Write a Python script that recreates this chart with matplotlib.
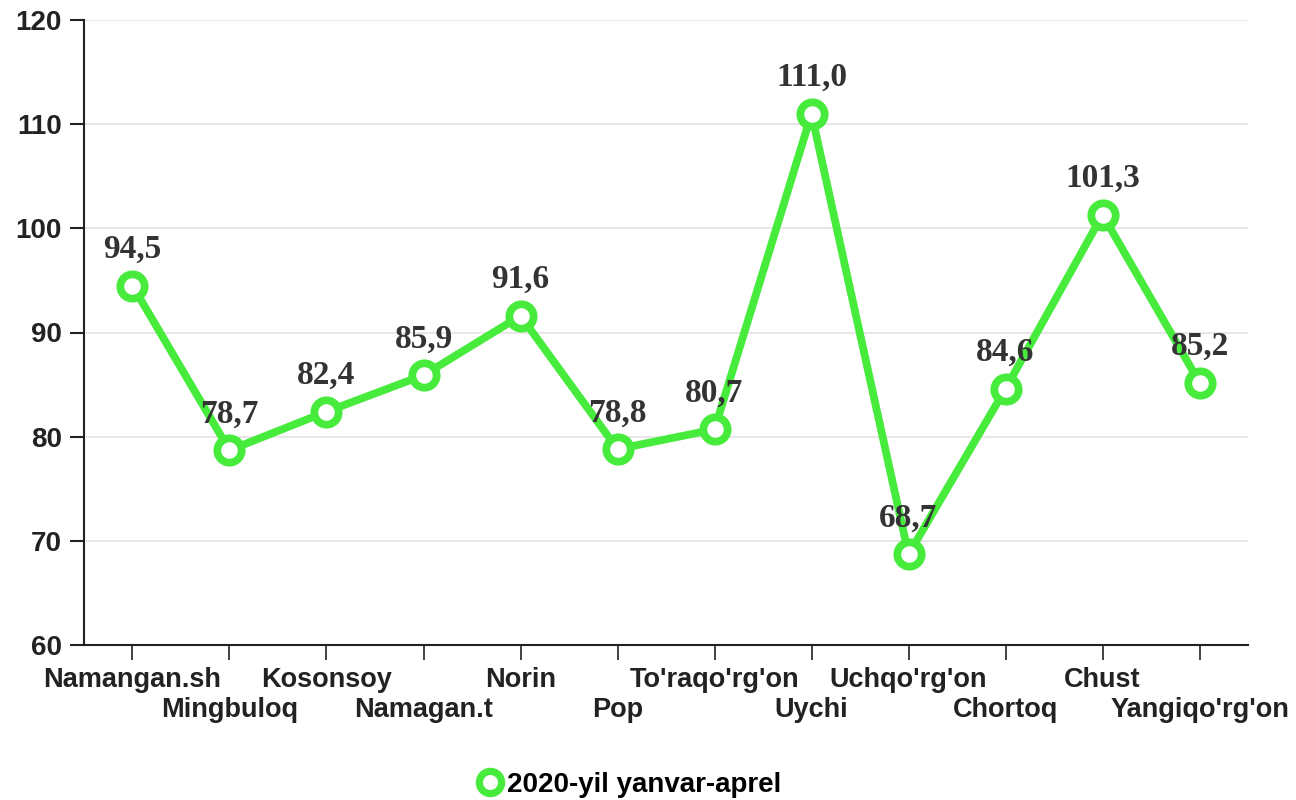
import matplotlib.pyplot as plt
from matplotlib.lines import Line2D

# Namangan districts, 2020 January-April
districts = ["Namangan.sh", "Mingbuloq", "Kosonsoy", "Namagan.t", "Norin", "Pop",
             "To'raqo'rg'on", "Uychi", "Uchqo'rg'on", "Chortoq", "Chust", "Yangiqo'rg'on"]
values = [94.5, 78.7, 82.4, 85.9, 91.6, 78.8, 80.7, 111.0, 68.7, 84.6, 101.3, 85.2]
series_name = "2020-yil yanvar-aprel"

green = '#46EB3C'
sans = ['Liberation Sans', 'DejaVu Sans']
serif = ['Liberation Serif', 'DejaVu Serif']

fig = plt.figure(figsize=(12.96, 8), dpi=100)
ax = fig.add_axes([0.0648, 0.19375, 0.8982, 0.78125])

x = list(range(len(districts)))
ax.plot(x, values, color=green, lw=5.6, marker='o', ms=17.5,
        mfc='white', mec=green, mew=5.6, zorder=3, clip_on=False)

for i, v in enumerate(values):
    ax.annotate(f"{v:.1f}".replace('.', ','), (i, v), xytext=(0, 20),
                textcoords='offset points', ha='center', va='baseline',
                fontsize=24, fontweight='bold', color='#333333', family=serif,
                zorder=4)

ax.set_xlim(-0.5, len(districts) - 0.5)
ax.set_ylim(60, 120)
ax.set_yticks(range(60, 121, 10))
ax.yaxis.grid(True, color='#e3e3e3', lw=1.2)
ax.set_axisbelow(True)

labels = [d if i % 2 == 0 else "\n" + d for i, d in enumerate(districts)]
ax.set_xticks(x)
ax.set_xticklabels(labels, family=sans, fontweight='bold', fontsize=19.5,
                   linespacing=1.17)
for t in ax.get_yticklabels():
    t.set_family(sans)
    t.set_fontweight('bold')
    t.set_fontsize(20)

ax.tick_params(axis='x', length=11, width=1.2, pad=5, colors='#222222')
ax.tick_params(axis='y', length=10, width=1.5, pad=6, colors='#222222')
for s in ['top', 'right']:
    ax.spines[s].set_visible(False)
for s in ['left', 'bottom']:
    ax.spines[s].set_linewidth(1.5)
    ax.spines[s].set_color('#222222')

handle = Line2D([], [], linestyle='None', marker='o', ms=16, mfc='white',
                mec=green, mew=5.2)
fig.legend([handle], [series_name], loc='center', bbox_to_anchor=(0.485, 0.019),
           frameon=False, handlelength=1.0, handletextpad=0.1,
           prop={'family': sans, 'weight': 'bold', 'size': 20})

fig.savefig('out.png', dpi=100)
